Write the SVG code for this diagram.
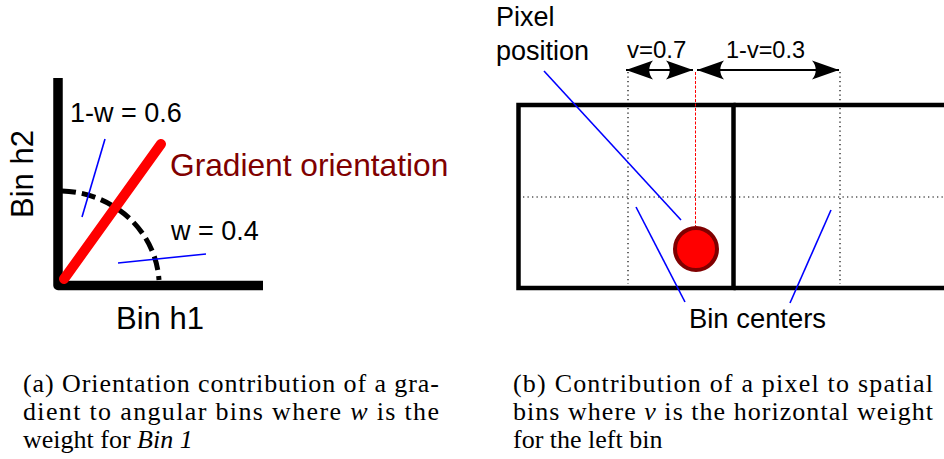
<svg xmlns="http://www.w3.org/2000/svg" width="944" height="459" viewBox="0 0 944 459">
<style>
.sans{font-family:"Liberation Sans",Arial,sans-serif;fill:#000}
.cap{font-family:"Liberation Serif","Times New Roman",serif;font-size:26px;fill:#000}
.blue{stroke:#0000ff;stroke-width:1.6;fill:none}
.dot{stroke:#000;stroke-width:1.2;stroke-dasharray:1.3 3.2;fill:none}
.it{font-style:italic}
</style>
<defs>
<marker id="ah" markerUnits="userSpaceOnUse" markerWidth="30" markerHeight="22" viewBox="-28 -11 30 22" refX="0" refY="0" orient="auto-start-reverse">
<path d="M0,0 L-27,-9.5 C-22,-4 -22,4 -27,9.5 Z" fill="#000"/>
</marker>
</defs>
<rect width="944" height="459" fill="#fff"/>

<g id="panel-a">
<g id="axes">
<path d="M58,78 L58,285.5 L263,285.5" fill="none" stroke="#000" stroke-width="9.5" stroke-linejoin="round"/>
</g>
<g id="angle-arc">
<path d="M62,191 A100,95 0 0 1 159,280" fill="none" stroke="#000" stroke-width="5" stroke-dasharray="14 6"/>
</g>
<g id="gradient-line">
<line x1="64" y1="279" x2="161" y2="144" stroke="#ff0000" stroke-width="10" stroke-linecap="round"/>
</g>
<g id="connectors-a">
<line class="blue" x1="105" y1="139" x2="82" y2="217"/>
<line class="blue" x1="118" y1="263" x2="206" y2="254"/>
</g>
<g id="labels-a">
<text class="sans" x="70" y="122" font-size="27">1-w = 0.6</text>
<text class="sans" x="171" y="240" font-size="27">w = 0.4</text>
<text x="170" y="176" font-family="Liberation Sans,Arial,sans-serif" font-size="31.7" fill="#800000">Gradient orientation</text>
<text class="sans" x="116" y="329" font-size="31">Bin h1</text>
<text class="sans" x="0" y="0" font-size="31" text-anchor="middle" transform="translate(33,174) rotate(-90)">Bin h2</text>
</g>
</g>

<g id="panel-b">
<g id="grid">
<line class="dot" x1="523" y1="197" x2="944" y2="197"/>
<line class="dot" x1="628" y1="72" x2="628" y2="284"/>
<line class="dot" x1="840" y1="72" x2="840" y2="284"/>
</g>
<g id="left-bin">
<rect x="518.5" y="105" width="215" height="183" fill="none" stroke="#000" stroke-width="4.5"/>
</g>
<g id="right-bin">
<path d="M733.5,105 L946,105 M733.5,288 L946,288" fill="none" stroke="#000" stroke-width="4.5"/>
</g>
<g id="pixel">
<line x1="695.5" y1="72" x2="695.5" y2="226" stroke="#ff0000" stroke-width="1" stroke-dasharray="3 1.5"/>
<circle cx="696" cy="249" r="21" fill="#ff0000" stroke="#800000" stroke-width="4"/>
</g>
<g id="connectors-b">
<line x1="626" y1="70" x2="693" y2="70" stroke="#000" stroke-width="2" marker-start="url(#ah)" marker-end="url(#ah)"/>
<line x1="697" y1="70" x2="839" y2="70" stroke="#000" stroke-width="2" marker-start="url(#ah)" marker-end="url(#ah)"/>
<line class="blue" x1="544" y1="71" x2="681" y2="220"/>
<line class="blue" x1="636" y1="207" x2="685" y2="302"/>
<line class="blue" x1="831" y1="210" x2="790" y2="303"/>
</g>
<g id="labels-b">
<text class="sans" x="496" y="26" font-size="27">Pixel</text>
<text class="sans" x="496" y="60" font-size="27">position</text>
<text class="sans" x="627" y="58" font-size="24">v=0.7</text>
<text class="sans" x="726" y="58" font-size="23.5">1-v=0.3</text>
<text class="sans" x="689" y="328" font-size="27.4">Bin centers</text>
</g>
</g>

<g id="captions">
<text class="cap" x="23" y="392" textLength="416" lengthAdjust="spacing">(a) Orientation contribution of a gra-</text>
<text class="cap" x="23" y="420" textLength="416" lengthAdjust="spacing">dient to angular bins where <tspan class="it">w</tspan> is the</text>
<text class="cap" x="23" y="448">weight for <tspan class="it">Bin 1</tspan></text>
<text class="cap" x="513" y="392" textLength="420" lengthAdjust="spacing">(b) Contribution of a pixel to spatial</text>
<text class="cap" x="513" y="420" textLength="420" lengthAdjust="spacing">bins where <tspan class="it">v</tspan> is the horizontal weight</text>
<text class="cap" x="513" y="448">for the left bin</text>
</g>
</svg>
